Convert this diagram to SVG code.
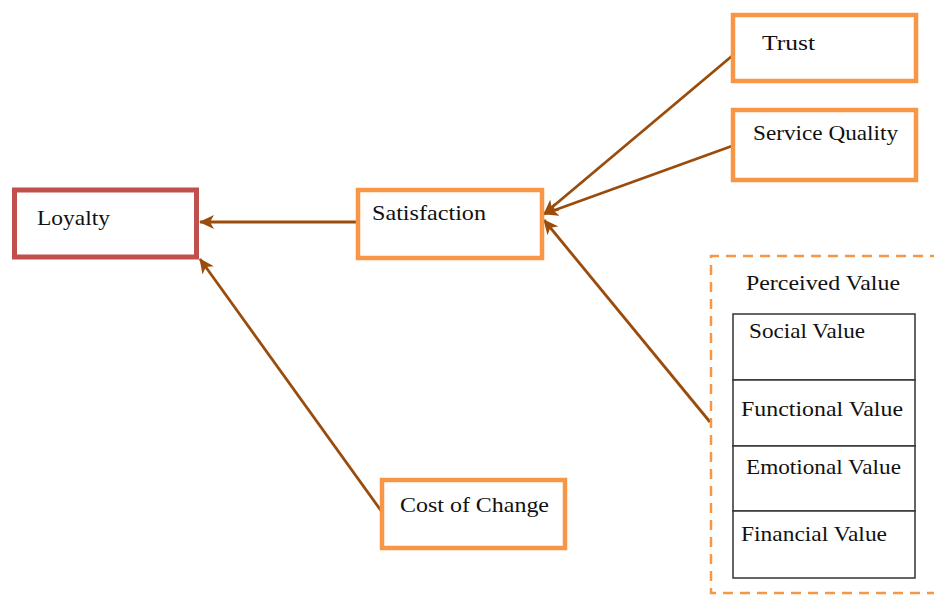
<svg xmlns="http://www.w3.org/2000/svg" width="934" height="596" viewBox="0 0 934 596">
<defs>
<style>
.box{fill:#fff;stroke:#F79646;stroke-width:4.5}
.lbl{font-family:"Liberation Serif","Times New Roman",serif;font-size:22px;fill:#111}
.cell{fill:#fff;stroke:#333;stroke-width:1.5}
.con{stroke:#9A4C0C;stroke-width:2.8;fill:none;marker-end:url(#ah)}
</style>
<marker id="ah" markerWidth="16" markerHeight="14" refX="14" refY="7" orient="auto" markerUnits="userSpaceOnUse">
<path d="M0,0 L15,7 L0,14 L4,7 Z" fill="#9A4C0C"/>
</marker>
</defs>
<rect width="934" height="596" fill="#fff"/>
<g id="connectors">
<line class="con" x1="356" y1="222" x2="200" y2="222"/>
<line class="con" x1="382" y1="512" x2="200" y2="259"/>
<line class="con" x1="732" y1="56" x2="544" y2="214"/>
<line class="con" x1="732" y1="146" x2="544" y2="214"/>
<line class="con" x1="710" y1="422" x2="544" y2="220"/>
</g>
<g id="loyalty">
<rect x="14.5" y="190" width="182" height="67" fill="#fff" stroke="#C0504D" stroke-width="5"/>
<text class="lbl" x="37" y="225" textLength="73" lengthAdjust="spacingAndGlyphs">Loyalty</text>
</g>
<g id="satisfaction">
<rect class="box" x="358" y="190" width="184" height="68"/>
<text class="lbl" x="372" y="220" textLength="114" lengthAdjust="spacingAndGlyphs">Satisfaction</text>
</g>
<g id="trust">
<rect class="box" x="733" y="15" width="183" height="66"/>
<text class="lbl" x="762" y="50" textLength="53" lengthAdjust="spacingAndGlyphs">Trust</text>
</g>
<g id="service-quality">
<rect class="box" x="733" y="110" width="183" height="70"/>
<text class="lbl" x="753" y="140" textLength="145" lengthAdjust="spacingAndGlyphs">Service Quality</text>
</g>
<g id="cost-of-change">
<rect class="box" x="382" y="480" width="183" height="68"/>
<text class="lbl" x="400" y="512" textLength="149" lengthAdjust="spacingAndGlyphs">Cost of Change</text>
</g>
<g id="perceived-value">
<path d="M940,256 L711,256 L711,593 L940,593" fill="none" stroke="#F79646" stroke-width="2.5" stroke-dasharray="10,7"/>
<text class="lbl" x="746" y="290" textLength="154" lengthAdjust="spacingAndGlyphs">Perceived Value</text>
<rect class="cell" x="733" y="314" width="182" height="66"/>
<rect class="cell" x="733" y="380" width="182" height="66"/>
<rect class="cell" x="733" y="446" width="182" height="65"/>
<rect class="cell" x="733" y="511" width="182" height="67"/>
<text class="lbl" x="749" y="338" textLength="116" lengthAdjust="spacingAndGlyphs">Social Value</text>
<text class="lbl" x="741" y="416" textLength="162" lengthAdjust="spacingAndGlyphs">Functional Value</text>
<text class="lbl" x="746" y="474" textLength="155" lengthAdjust="spacingAndGlyphs">Emotional Value</text>
<text class="lbl" x="741" y="541" textLength="146" lengthAdjust="spacingAndGlyphs">Financial Value</text>
</g>
</svg>
